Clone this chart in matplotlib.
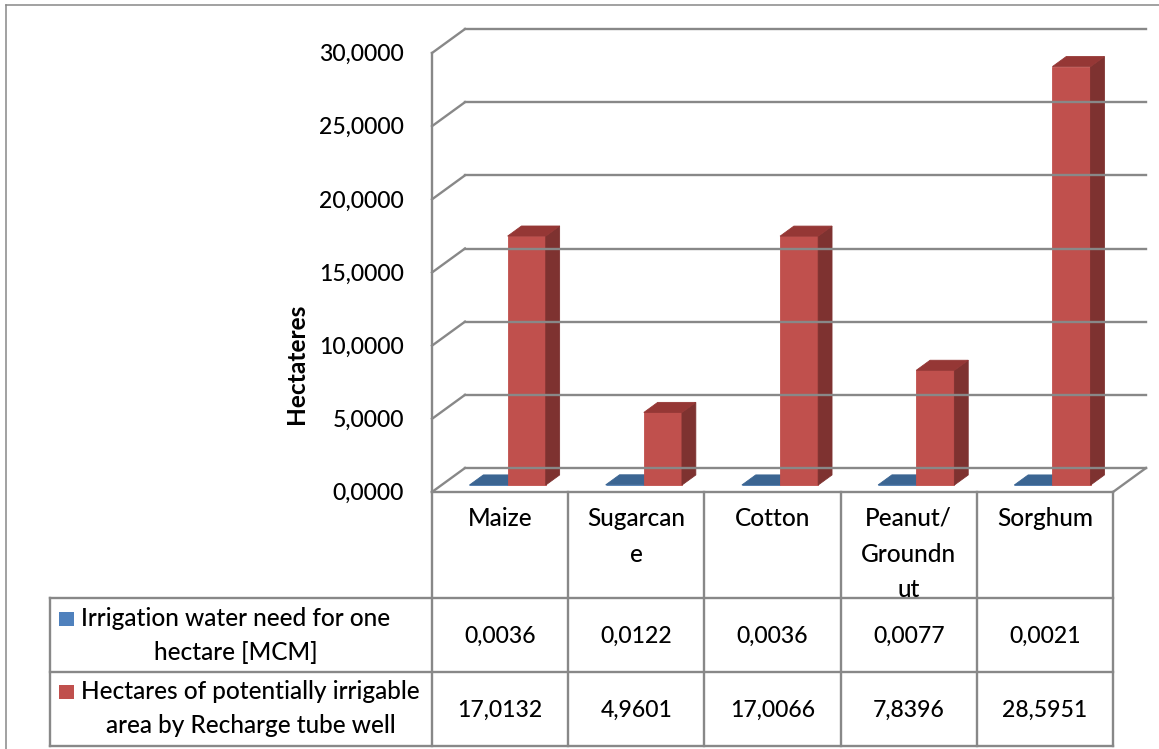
import matplotlib
matplotlib.use("Agg")
import matplotlib.pyplot as plt
import matplotlib.transforms as mtransforms
from matplotlib.patches import Polygon, Rectangle
from matplotlib.lines import Line2D

# ---- data -------------------------------------------------------------
categories = ["Maize", "Sugarcan\ne", "Cotton", "Peanut/\nGroundn\nut", "Sorghum"]
water_need = [0.0036, 0.0122, 0.0036, 0.0077, 0.0021]
irrigable_area = [17.0132, 4.9601, 17.0066, 7.8396, 28.5951]
series_labels = [
    "Irrigation water need for one\nhectare [MCM]",
    "Hectares of potentially irrigable\narea by Recharge tube well",
]
y_ticks = [0, 5, 10, 15, 20, 25, 30]
y_label = "Hectateres"

# ---- style ------------------------------------------------------------
plt.rcParams["font.family"] = ["Lato", "DejaVu Sans"]
FS_TEXT = 17.6
FS_NUM = 16.6
WEIGHT = "medium"
GRID = "#888888"
LINE_W = 1.7
series_faces = [
    # front, side, top
    ("#4F81BD", "#2E5580", "#3B6592"),
    ("#C0504D", "#7E3230", "#953735"),
]
legend_colors = ["#4F81BD", "#C0504D"]

W, H = 1159, 749
fig = plt.figure(figsize=(W / 100, H / 100), dpi=100)


def fx(px):
    return px / W


def fy(py):
    return 1 - py / H


# ---- plot area (front plane of the 3-D box) ---------------------------
left_px, right_px = 432, 1113
bottom_px, top_px = 492, 53
ax = fig.add_axes([fx(left_px), fy(bottom_px),
                   fx(right_px) - fx(left_px), fy(top_px) - fy(bottom_px)])
n = len(categories)
ymax = y_ticks[-1]
ax.set_xlim(0, n)
ax.set_ylim(0, ymax)
ax.axis("off")

# depth offset of the back wall, converted to data units
px_per_x = (right_px - left_px) / n
px_per_y = (bottom_px - top_px) / ymax
DX = 33 / px_per_x
DY = 24 / px_per_y


def proj(x, y, z):
    return (x + z * DX, y + z * DY)


def seg(p, q, **kw):
    ax.add_line(Line2D([p[0], q[0]], [p[1], q[1]], color=GRID, lw=LINE_W,
                       clip_on=False, solid_capstyle="projecting", **kw))


# walls and gridlines
for t in y_ticks:
    seg(proj(0, t, 0), proj(0, t, 1))          # side wall slant
    seg(proj(0, t, 1), proj(n, t, 1))          # back wall gridline
seg(proj(0, 0, 0), proj(0, ymax, 0))           # front vertical axis
seg(proj(n, 0, 0), proj(n, 0, 1))              # floor right edge
seg(proj(0, 0, 0), proj(n, 0, 0))              # floor front edge

# ---- 3-D columns ------------------------------------------------------
bar_w = 0.28
offsets = [-0.295, -0.015]
z0, z1 = 0.29, 0.71


def draw_column(xl, h, faces):
    xr = xl + bar_w
    front, side, top = faces
    kw = dict(closed=True, clip_on=False, lw=0.6)
    ax.add_patch(Polygon([proj(xl, 0, z0), proj(xr, 0, z0),
                          proj(xr, h, z0), proj(xl, h, z0)],
                         facecolor=front, edgecolor=front, **kw))
    ax.add_patch(Polygon([proj(xr, 0, z0), proj(xr, 0, z1),
                          proj(xr, h, z1), proj(xr, h, z0)],
                         facecolor=side, edgecolor=side, **kw))
    ax.add_patch(Polygon([proj(xl, h, z0), proj(xr, h, z0),
                          proj(xr, h, z1), proj(xl, h, z1)],
                         facecolor=top, edgecolor=top, **kw))


series = [water_need, irrigable_area]
for i in range(n):
    for s, values in enumerate(series):
        draw_column(i + 0.5 + offsets[s], values[i], series_faces[s])


def fmt(v):
    return f"{v:.4f}".replace(".", ",")


# y tick labels on the front plane
label_tr = ax.transData + mtransforms.ScaledTranslation(-28 / 100, -8 / 100,
                                                        fig.dpi_scale_trans)
for t in y_ticks:
    ax.text(0, t, fmt(t), transform=label_tr, ha="right", va="baseline",
            fontsize=FS_NUM, fontweight=WEIGHT, color="black", clip_on=False)

fig.text(fx(296), fy(364), y_label, rotation=90, ha="center", va="center",
         fontsize=FS_TEXT, fontweight="bold")

# ---- data table -------------------------------------------------------
xcat = mtransforms.blended_transform_factory(ax.transData, fig.transFigure)
table_top, row1_top, row2_top, table_bottom = 492, 598, 672, 746
legend_left = 50


def fig_line(xs, ys, transform=fig.transFigure):
    fig.add_artist(Line2D(xs, ys, color=GRID, lw=LINE_W, transform=transform,
                          solid_capstyle="projecting"))


for i in range(n + 1):
    fig_line([i, i], [fy(table_top), fy(table_bottom)], transform=xcat)
for yy in (row1_top, row2_top, table_bottom):
    fig_line([fx(legend_left), fx(right_px)], [fy(yy), fy(yy)])
fig_line([fx(legend_left), fx(legend_left)], [fy(row1_top), fy(table_bottom)])

# category headers
line_step = 35.5
for i, name in enumerate(categories):
    for k, part in enumerate(name.split("\n")):
        t = fig.text(0, fy(526 + k * line_step), part, transform=xcat,
                     ha="center", va="baseline", fontsize=FS_TEXT,
                     fontweight=WEIGHT)
        t.set_x(i + 0.5)

# value rows
row_baselines = [643, 717]
for s, values in enumerate(series):
    for i, v in enumerate(values):
        t = fig.text(0, fy(row_baselines[s]), fmt(v), transform=xcat,
                     ha="center", va="baseline", fontsize=FS_NUM,
                     fontweight=WEIGHT)
        t.set_x(i + 0.5)

# series legend cells
legend_baselines = [(626, 660), (699, 733)]
text_left = 81
for s, label in enumerate(series_labels):
    b1, b2 = legend_baselines[s]
    fig.add_artist(Rectangle((fx(59), fy(b1)), fx(15), 14 / H,
                             transform=fig.transFigure,
                             facecolor=legend_colors[s], edgecolor="none"))
    lines = label.split("\n")
    # first line sets the text block; second line is centred under it
    t1 = fig.text(fx(text_left), fy(b1), lines[0], ha="left", va="baseline",
                  fontsize=FS_TEXT, fontweight=WEIGHT)
    fig.canvas.draw()
    bb = t1.get_window_extent()
    cx = (bb.x0 + bb.x1) / 2 / fig.bbox.width
    fig.text(cx, fy(b2), lines[1], ha="center", va="baseline",
             fontsize=FS_TEXT, fontweight=WEIGHT)

# outer chart border (top and left edges)
fig_line([fx(6), fx(W + 5)], [fy(5), fy(5)])
fig.artists[-1].set_linewidth(1.1)
fig_line([fx(6), fx(6)], [fy(5), fy(H + 5)])
fig.artists[-1].set_linewidth(1.1)

fig.savefig("out.png", dpi=100)
